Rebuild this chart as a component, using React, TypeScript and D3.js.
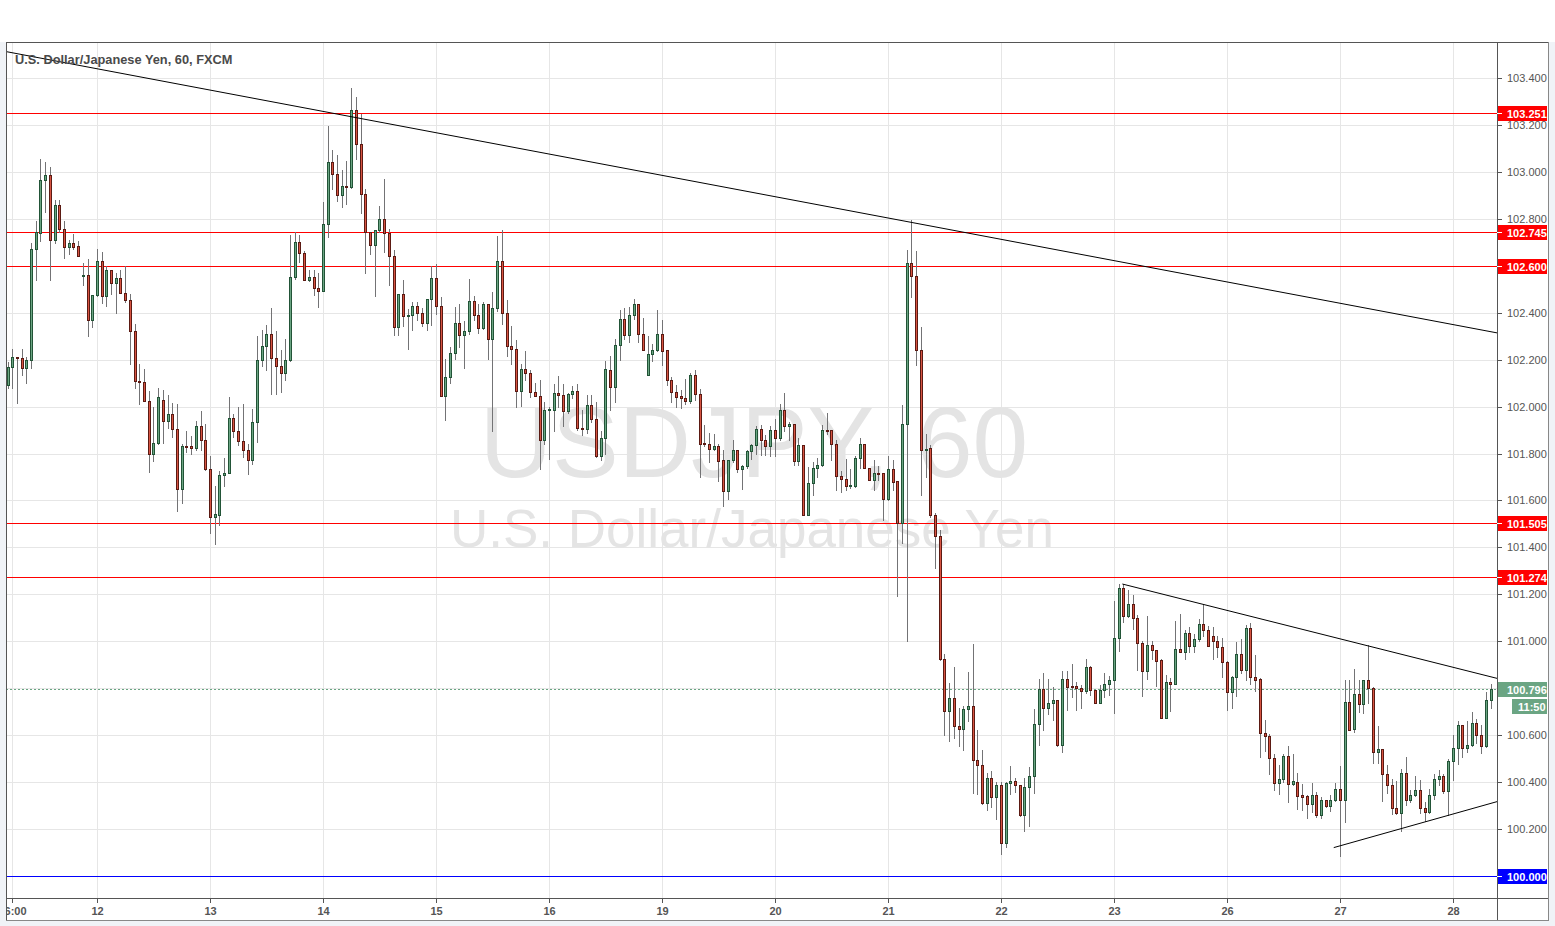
import React from 'react';
import * as d3 from 'd3';

// ---- DATA (USD/JPY, 60 min, FXCM) ----
const opens = [
102.09,102.17,102.21,102.205,102.165,102.2,102.673,102.74,102.965,102.985,
102.71,102.86,102.755,102.68,102.695,102.685,102.555,102.56,102.37,102.475,
102.62,102.47,102.58,102.525,102.55,102.485,102.455,102.32,102.11,102.105,
102.025,101.8,101.845,102.027,101.94,101.97,101.906,101.647,101.83,101.83,
101.825,101.916,101.857,101.736,101.53,101.54,101.708,101.715,101.95,101.895,
101.852,101.817,101.774,101.935,102.2,102.257,102.311,102.208,102.173,102.143,
102.2,102.552,102.7,102.655,102.54,102.552,102.507,102.493,102.777,103.041,
102.99,102.9,102.94,102.937,103.262,103.12,102.907,102.744,102.69,102.754,
102.8,102.74,102.642,102.339,102.481,102.385,102.392,102.43,102.4,102.358,
102.46,102.55,102.43,102.044,102.124,102.23,102.358,102.307,102.321,102.449,
102.392,102.335,102.439,102.29,102.422,102.62,102.4,102.258,102.247,102.067,
102.162,102.143,102.062,102.045,101.859,101.987,101.987,102.06,102.05,101.98,
102.052,102.068,101.91,101.905,102.006,101.949,101.79,101.868,102.158,102.084,
102.261,102.375,102.307,102.389,102.439,102.311,102.136,102.226,102.24,102.311,
102.24,102.112,102.062,102.044,102.038,102.024,102.136,102.055,101.844,101.842,
101.821,101.831,101.771,101.641,101.771,101.817,101.732,101.746,101.81,101.835,
101.906,101.857,101.832,101.9,101.868,101.984,101.918,101.925,101.769,101.838,
101.537,101.676,101.74,101.753,101.902,101.899,101.842,101.705,101.693,101.661,
101.661,101.783,101.842,101.74,101.689,101.718,101.718,101.605,101.732,101.683,
101.503,101.924,102.61,102.556,102.239,101.813,101.822,101.54,101.448,100.925,
100.703,100.758,100.638,100.625,100.712,100.725,100.493,100.475,100.311,100.419,
100.335,100.386,100.141,100.395,100.406,100.387,100.258,100.378,100.424,100.647,
100.795,100.716,100.739,100.752,100.557,100.841,100.809,100.808,100.803,100.787,
100.891,100.791,100.738,100.791,100.82,100.834,101.016,101.228,101.108,101.16,
101.101,100.993,100.874,100.986,100.965,100.919,100.675,100.827,100.816,100.969,
100.955,101.037,100.98,101.01,101.074,101.048,101.024,101.0,100.977,100.913,
100.783,100.85,100.946,100.878,101.057,100.847,100.84,100.609,100.596,100.504,
100.397,100.414,100.513,100.393,100.4,100.343,100.339,100.305,100.343,100.258,
100.322,100.298,100.322,100.372,100.325,100.743,100.627,100.776,100.733,100.833,
100.8,100.53,100.542,100.435,100.389,100.291,100.27,100.44,100.325,100.343,
100.365,100.291,100.272,100.343,100.414,100.424,100.362,100.488,100.546,100.645,
100.546,100.559,100.652,100.599,100.553,100.748];

const highs = [
102.19,102.247,102.21,102.247,102.21,102.695,102.79,103.057,103.04,103.02,
102.88,102.88,102.79,102.71,102.735,102.705,102.61,102.63,102.475,102.67,
102.66,102.6,102.58,102.57,102.58,102.6,102.48,102.35,102.18,102.16,
102.065,102.0,102.08,102.07,102.05,102.016,102.013,101.84,101.895,101.874,
101.94,101.98,101.925,101.788,101.66,101.725,101.78,102.04,101.97,101.999,
102.013,101.84,101.99,102.3,102.325,102.346,102.42,102.32,102.24,102.29,
102.73,102.744,102.733,102.662,102.583,102.58,102.57,102.872,103.194,103.092,
103.07,103.007,103.045,103.357,103.319,103.248,102.926,102.744,102.754,102.853,
102.971,102.758,102.669,102.481,102.541,102.417,102.446,102.446,102.42,102.46,
102.598,102.609,102.467,102.204,102.254,102.425,102.439,102.364,102.545,102.47,
102.435,102.446,102.439,102.488,102.726,102.751,102.456,102.342,102.283,102.183,
102.236,102.155,102.102,102.115,102.02,102.0,102.095,102.13,102.095,102.058,
102.088,102.098,101.984,102.048,102.048,102.02,101.896,102.193,102.214,102.29,
102.413,102.422,102.425,102.46,102.439,102.379,102.301,102.268,102.41,102.37,
102.243,102.126,102.091,102.07,102.119,102.143,102.155,102.077,101.923,101.888,
101.885,101.842,101.817,101.771,101.857,101.817,101.75,101.817,101.842,101.916,
101.92,101.878,101.916,101.949,102.01,102.06,101.935,101.925,101.868,101.838,
101.743,101.764,101.783,101.92,101.973,101.899,101.859,101.725,101.776,101.732,
101.788,101.868,101.842,101.74,101.774,101.746,101.718,101.788,101.771,101.683,
102.007,102.666,102.795,102.662,102.341,101.883,101.837,101.546,101.475,100.947,
100.821,100.892,100.715,100.725,100.869,100.99,100.623,100.536,100.437,100.447,
100.4,100.4,100.4,100.469,100.419,100.387,100.419,100.465,100.712,100.84,
100.864,100.838,100.806,100.752,100.872,100.872,100.905,100.827,100.813,100.926,
100.894,100.791,100.813,100.867,100.851,101.17,101.243,101.243,101.22,101.196,
101.111,101.001,101.106,101.0,100.965,100.926,100.855,100.844,101.085,101.118,
101.05,101.061,101.03,101.095,101.159,101.067,101.06,101.024,101.014,100.918,
100.854,100.999,101.01,101.07,101.077,100.943,100.843,100.665,100.603,100.518,
100.471,100.521,100.552,100.521,100.44,100.39,100.343,100.396,100.357,100.336,
100.325,100.346,100.396,100.467,100.837,100.835,100.882,100.835,100.835,100.986,
100.804,100.641,100.542,100.471,100.414,100.404,100.457,100.506,100.365,100.424,
100.407,100.315,100.372,100.433,100.452,100.433,100.499,100.601,100.662,100.645,
100.662,100.698,100.667,100.645,100.786,100.816];

const lows = [
102.08,102.08,102.015,102.135,102.1,102.165,102.54,102.705,102.83,102.54,
102.695,102.745,102.635,102.65,102.67,102.64,102.52,102.3,102.34,102.47,
102.44,102.43,102.48,102.4,102.485,102.445,102.18,102.08,102.01,102.025,
101.72,101.77,101.84,101.845,101.91,101.87,101.556,101.59,101.807,101.8,
101.814,101.817,101.73,101.463,101.416,101.497,101.66,101.715,101.87,101.835,
101.785,101.714,101.757,101.85,102.172,102.158,102.055,102.055,102.062,102.115,
102.195,102.543,102.616,102.54,102.535,102.477,102.425,102.493,102.723,102.925,
102.876,102.85,102.862,102.933,103.056,102.826,102.57,102.649,102.471,102.744,
102.66,102.52,102.304,102.304,102.342,102.247,102.328,102.368,102.344,102.328,
102.346,102.393,102.044,101.942,102.1,102.204,102.254,102.166,102.311,102.37,
102.315,102.329,102.204,101.896,102.408,102.35,102.216,102.18,101.999,102.003,
102.115,102.041,102.045,101.732,101.842,101.775,101.896,101.999,101.916,101.973,
102.038,101.902,101.878,101.888,101.935,101.786,101.774,101.8,101.987,102.02,
102.197,102.29,102.275,102.375,102.275,102.243,102.136,102.195,102.237,102.179,
102.091,102.02,101.999,101.996,102.013,102.016,102.027,101.698,101.831,101.764,
101.817,101.683,101.575,101.608,101.764,101.722,101.651,101.74,101.778,101.797,
101.793,101.793,101.79,101.79,101.859,101.895,101.857,101.75,101.753,101.537,
101.537,101.622,101.698,101.746,101.885,101.771,101.644,101.637,101.644,101.655,
101.658,101.74,101.74,101.686,101.646,101.686,101.516,101.601,101.644,101.192,
101.42,101.0,102.467,102.176,101.624,101.698,101.53,101.312,100.919,100.599,
100.576,100.586,100.554,100.536,100.66,100.354,100.348,100.308,100.28,100.293,
100.243,100.095,100.122,100.35,100.36,100.256,100.191,100.215,100.354,100.558,
100.623,100.692,100.664,100.555,100.529,100.709,100.763,100.709,100.716,100.78,
100.77,100.738,100.738,100.763,100.77,100.695,100.959,101.082,101.104,101.051,
100.877,100.767,100.841,100.926,100.809,100.675,100.675,100.704,100.816,100.955,
100.923,100.955,100.955,101.003,101.024,100.979,100.925,100.935,100.847,100.708,
100.715,100.769,100.864,100.833,100.818,100.79,100.509,100.532,100.433,100.365,
100.35,100.4,100.315,100.389,100.284,100.28,100.247,100.272,100.251,100.247,
100.294,100.279,100.319,100.085,100.23,100.62,100.613,100.698,100.694,100.738,
100.481,100.481,100.319,100.353,100.265,100.265,100.191,100.301,100.315,100.339,
100.268,100.234,100.268,100.329,100.386,100.353,100.258,100.407,100.478,100.509,
100.528,100.556,100.566,100.525,100.549,100.716];

const closes = [
102.17,102.21,102.205,102.165,102.2,102.673,102.745,102.965,102.985,102.71,
102.86,102.755,102.68,102.695,102.68,102.64,102.56,102.37,102.475,102.62,
102.47,102.58,102.525,102.55,102.485,102.455,102.32,102.11,102.105,102.025,
101.8,101.845,102.04,101.94,101.97,101.906,101.647,101.83,101.828,101.825,
101.916,101.857,101.736,101.53,101.541,101.71,101.715,101.95,101.895,101.852,
101.817,101.774,101.935,102.2,102.257,102.311,102.208,102.173,102.143,102.2,
102.552,102.7,102.655,102.54,102.552,102.507,102.493,102.777,103.041,102.99,
102.9,102.94,102.937,103.262,103.12,102.907,102.744,102.69,102.754,102.8,
102.74,102.642,102.339,102.481,102.385,102.392,102.43,102.4,102.358,102.46,
102.55,102.43,102.044,102.124,102.23,102.358,102.307,102.321,102.449,102.392,
102.335,102.439,102.29,102.422,102.62,102.4,102.258,102.247,102.067,102.162,
102.143,102.062,102.045,101.859,101.987,101.989,102.06,102.05,101.98,102.052,
102.068,101.91,101.905,102.006,101.949,101.79,101.868,102.159,102.084,102.261,
102.375,102.307,102.389,102.439,102.311,102.243,102.226,102.24,102.311,102.237,
102.112,102.062,102.041,102.038,102.024,102.136,102.055,101.842,101.841,101.821,
101.831,101.769,101.641,101.771,101.817,101.732,101.746,101.81,101.835,101.906,
101.857,101.832,101.9,101.868,101.984,101.918,101.925,101.769,101.838,101.537,
101.676,101.74,101.753,101.902,101.896,101.842,101.705,101.693,101.661,101.665,
101.783,101.842,101.74,101.689,101.717,101.715,101.605,101.732,101.679,101.503,
101.924,102.61,102.556,102.239,101.813,101.82,101.54,101.448,100.925,100.703,
100.758,100.638,100.625,100.712,100.725,100.493,100.475,100.311,100.419,100.335,
100.386,100.141,100.395,100.406,100.386,100.258,100.378,100.424,100.647,100.795,
100.715,100.739,100.752,100.557,100.841,100.806,100.804,100.801,100.787,100.891,
100.791,100.738,100.791,100.82,100.834,101.016,101.228,101.108,101.16,101.099,
100.993,100.874,100.986,100.965,100.916,100.675,100.827,100.816,100.969,100.955,
101.037,100.98,101.011,101.074,101.048,100.979,101.0,100.977,100.911,100.783,
100.85,100.946,100.878,101.057,100.847,100.837,100.609,100.596,100.504,100.397,
100.414,100.513,100.393,100.403,100.34,100.336,100.305,100.343,100.258,100.322,
100.298,100.322,100.372,100.325,100.743,100.624,100.776,100.733,100.833,100.8,
100.53,100.542,100.435,100.389,100.291,100.27,100.44,100.325,100.343,100.365,
100.291,100.272,100.343,100.414,100.424,100.362,100.488,100.546,100.645,100.546,
100.559,100.652,100.599,100.553,100.748,100.796];

// time axis: candle index of each label
const timeLabels = ['06:00', '12', '13', '14', '15', '16', '19', '20', '21', '22', '23', '26', '27', '28'];
const timeLabelIndex = [1, 19, 43, 67, 91, 115, 139, 163, 187, 211, 235, 259, 283, 307];

// price axis ticks
const priceTicks = [100.2, 100.4, 100.6, 100.8, 101.0, 101.2, 101.4, 101.6, 101.8, 102.0, 102.2, 102.4, 102.6, 102.8, 103.0, 103.2, 103.4];

// horizontal levels
const levelPrices = [103.251, 102.745, 102.6, 101.505, 101.274, 100.0];
const levelColors = ['#ff0000', '#ff0000', '#ff0000', '#ff0000', '#ff0000', '#0000ff'];

// trend lines (candle index, price)
const trendLines = [
  [{ i: -0.17, p: 103.512 }, { i: 316.4, p: 102.314 }],
  [{ i: 236.8, p: 101.244 }, { i: 316.4, p: 100.842 }],
  [{ i: 281.7, p: 100.121 }, { i: 316.4, p: 100.317 }],
];

const lastPrice = 100.796;
const countdown = '11:50';
const title = 'U.S. Dollar/Japanese Yen, 60, FXCM';
const watermark1 = 'USDJPY, 60';
const watermark2 = 'U.S. Dollar/Japanese Yen';

// ---- LAYOUT ----
const W = 1555, H = 926;
const PL = 6, PT = 42, PR = 1497, PB = 898;
const AXR = 1548, AXB = 920;
const UP = '#6ba583', DOWN = '#d75442', UPB = '#225437', DOWNB = '#5b1a13', WICK = '#737375';
const FONT = '"Liberation Sans", Arial, sans-serif';

export default function App() {
  const x = d3.scaleLinear().domain([0, 315]).range([7.5, 7.5 + 315 * 4.708]);
  const y = d3.scaleLinear().domain([100, 103.4]).range([876, 78]);
  const fmt = d3.format('.3f');

  const candles = opens.map((o, i) => {
    const c = closes[i];
    const cx = Math.round(x(i));
    const top = Math.round(y(Math.max(o, c)));
    const bot = Math.round(y(Math.min(o, c)));
    const h = Math.max(bot - top, 1);
    const up = c >= o;
    return (
      <g key={i}>
        <line x1={cx + 0.5} x2={cx + 0.5} y1={Math.round(y(highs[i]))} y2={Math.round(y(lows[i])) + 1} stroke={WICK} strokeWidth={1} />
        <rect x={cx - 1} y={top} width={3} height={h + 1} fill={up ? UPB : DOWNB} />
        {h >= 2 && <rect x={cx} y={top + 1} width={1} height={h - 1} fill={up ? UP : DOWN} />}
      </g>
    );
  });

  const lineGen = d3.line<{ i: number; p: number }>().x(d => x(d.i)).y(d => y(d.p));

  return (
    <svg width={W} height={H} style={{ position: 'absolute', left: 0, top: 0, display: 'block' }} fontFamily={FONT}>
      <defs>
        <clipPath id="plot"><rect x={PL} y={PT} width={PR - PL} height={PB - PT} /></clipPath>
        <clipPath id="xaxis"><rect x={PL} y={PB} width={PR - PL} height={AXB - PB} /></clipPath>
      </defs>
      <rect x={0} y={0} width={W} height={H} fill="#f0f3f7" />
      <rect x={0} y={0} width={W} height={PT} fill="#ffffff" />
      <rect x={PL} y={PT} width={AXR - PL} height={AXB - PT} fill="#ffffff" />

      {/* grid */}
      <g shapeRendering="crispEdges">
        {priceTicks.concat([100]).map(p => (
          <line key={'h' + p} x1={PL} x2={PR} y1={Math.round(y(p)) + 0.5} y2={Math.round(y(p)) + 0.5} stroke="#e6e6e6" />
        ))}
        {timeLabelIndex.map(i => (
          <line key={'v' + i} x1={Math.round(x(i)) + 0.5} x2={Math.round(x(i)) + 0.5} y1={PT} y2={PB} stroke="#e6e6e6" />
        ))}
      </g>

      {/* watermark */}
      <g clipPath="url(#plot)" fill="#e4e4e4" textAnchor="middle">
        <text x={754} y={477} fontSize={100}>{watermark1}</text>
        <text x={752} y={547} fontSize={53}>{watermark2}</text>
      </g>

      {/* levels */}
      <g shapeRendering="crispEdges" clipPath="url(#plot)">
        {levelPrices.map((p, k) => (
          <line key={'l' + k} x1={PL} x2={PR} y1={Math.round(y(p)) + 0.5} y2={Math.round(y(p)) + 0.5} stroke={levelColors[k]} />
        ))}
        <line x1={PL} x2={PR} y1={Math.round(y(lastPrice)) + 0.5} y2={Math.round(y(lastPrice)) + 0.5} stroke={UP} strokeDasharray="2,2" />
      </g>

      {/* candles */}
      <g shapeRendering="crispEdges" clipPath="url(#plot)">{candles}</g>

      {/* trend lines */}
      <g clipPath="url(#plot)">
        {trendLines.map((tl, k) => (
          <path key={'t' + k} d={lineGen(tl) || ''} stroke="#000000" strokeWidth={1} fill="none" />
        ))}
      </g>

      {/* title */}
      <text x={15} y={64} fontSize={12.8} fontWeight="bold" fill="#4a4a4a">{title}</text>

      {/* frame */}
      <g shapeRendering="crispEdges" fill="none">
        <line x1={PL + 0.5} x2={PL + 0.5} y1={PT} y2={AXB} stroke="#555" />
        <line x1={PL} x2={AXR} y1={PT + 0.5} y2={PT + 0.5} stroke="#555" />
        <line x1={PR + 0.5} x2={PR + 0.5} y1={PT} y2={AXB} stroke="#555" />
        <line x1={PL} x2={AXR} y1={PB + 0.5} y2={PB + 0.5} stroke="#555" />
        <line x1={AXR + 0.5} x2={AXR + 0.5} y1={PT} y2={AXB + 1} stroke="#888" />
        <line x1={PL} x2={AXR + 1} y1={AXB + 0.5} y2={AXB + 0.5} stroke="#888" />
      </g>

      {/* price axis */}
      <g fontSize={11} fill="#555">
        {priceTicks.map(p => (
          <g key={'pt' + p}>
            <line x1={PR} x2={PR + 5} y1={Math.round(y(p)) + 0.5} y2={Math.round(y(p)) + 0.5} stroke="#555" shapeRendering="crispEdges" />
            <text x={1507} y={y(p) + 4}>{fmt(p)}</text>
          </g>
        ))}
        {levelPrices.map((p, k) => (
          <g key={'lb' + k}>
            <rect x={PR + 1} y={Math.round(y(p)) - 7} width={AXR - PR - 2} height={15} fill={levelColors[k]} />
            <line x1={PR} x2={PR + 5} y1={Math.round(y(p)) + 0.5} y2={Math.round(y(p)) + 0.5} stroke="#fff" shapeRendering="crispEdges" />
            <text x={1507} y={Math.round(y(p)) + 4.5} fill="#fff" fontWeight="bold">{fmt(p)}</text>
          </g>
        ))}
        <rect x={PR + 1} y={Math.round(y(lastPrice)) - 7} width={AXR - PR - 2} height={15} fill={UP} />
        <text x={1507} y={Math.round(y(lastPrice)) + 4.5} fill="#fff" fontWeight="bold">{fmt(lastPrice)}</text>
        <rect x={1512} y={Math.round(y(lastPrice)) + 10} width={AXR - 1512 - 1} height={15} fill={UP} />
        <text x={1518} y={Math.round(y(lastPrice)) + 21.5} fill="#fff" fontWeight="bold">{countdown}</text>
      </g>

      {/* time axis */}
      <g fontSize={11} fill="#555" textAnchor="middle" clipPath="url(#xaxis)">
        {timeLabelIndex.map((i, k) => (
          <g key={'tl' + k}>
            <line x1={Math.round(x(i)) + 0.5} x2={Math.round(x(i)) + 0.5} y1={PB} y2={PB + 5} stroke="#555" shapeRendering="crispEdges" />
            <text x={Math.round(x(i)) + 0.5} y={915} fontWeight="bold">{timeLabels[k]}</text>
          </g>
        ))}
      </g>
    </svg>
  );
}
